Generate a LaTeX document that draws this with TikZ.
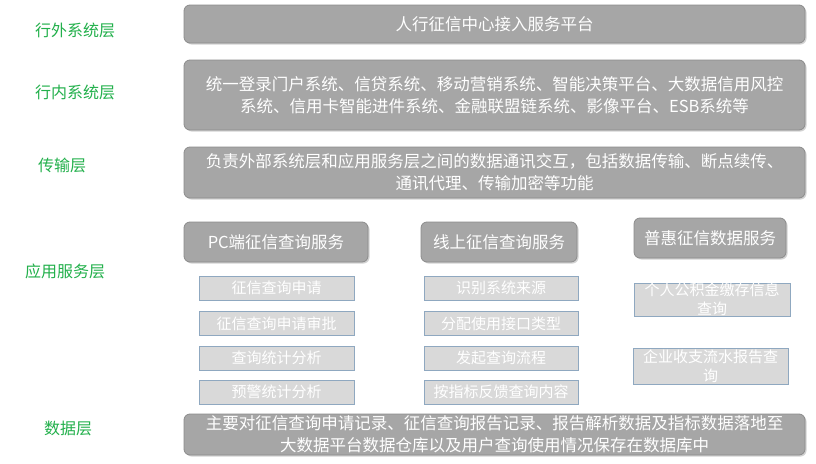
\documentclass[tikz,border=0pt]{standalone}
\usepackage{fontspec}
\setmainfont{Noto Sans CJK SC}
\usetikzlibrary{shadows}
\definecolor{boxgray}{HTML}{A6A6A6}
\definecolor{boxedge}{HTML}{8C8C8C}
\definecolor{lightbox}{HTML}{D9D9D9}
\definecolor{lightedge}{HTML}{8FA8C0}
\definecolor{labgreen}{HTML}{22B04B}
\tikzset{
  layerlabel/.style={text=labgreen, font=\fontsize{16}{20}\selectfont, inner sep=0pt},
  graybox/.style={draw=boxedge, line width=0.8pt, fill=boxgray, rounded corners=6pt, text=white,
    inner sep=0pt, align=center, font=\fontsize{16.5}{22}\selectfont,
    drop shadow={shadow xshift=1.5pt, shadow yshift=-1.5pt, opacity=0.35, fill=gray}},
  smallbox/.style={draw=lightedge, line width=0.9pt, fill=lightbox, text=white,
    inner sep=0pt, align=center, font=\fontsize{15}{20}\selectfont},
}
\begin{document}
\begin{tikzpicture}[x=1pt,y=-1pt]
\useasboundingbox[fill=white] (0,0) rectangle (816,463);
% labels
\node[layerlabel] (l1) at (75,30) {行外系统层};
\node[layerlabel] (l2) at (75,92) {行内系统层};
\node[layerlabel] (l3) at (62,165) {传输层};
\node[layerlabel] (l4) at (65,271) {应用服务层};
\node[layerlabel] (l5) at (68,428) {数据层};
% layer boxes
\node[graybox, minimum width=621pt, minimum height=38pt] (b1) at (494.5,24) {人行征信中心接入服务平台};
\node[graybox, minimum width=621pt, minimum height=70pt] (b2) at (494.5,95) {统一登录门户系统、信贷系统、移动营销系统、智能决策平台、大数据信用风控\\系统、信用卡智能进件系统、金融联盟链系统、影像平台、ESB系统等};
\node[graybox, minimum width=621pt, minimum height=51pt] (b3) at (494.5,172.5) {负责外部系统层和应用服务层之间的数据通讯交互，包括数据传输、断点续传、\\通讯代理、传输加密等功能};
\node[graybox, minimum width=621pt, minimum height=41pt] (b5) at (494.5,434.5) {主要对征信查询申请记录、征信查询报告记录、报告解析数据及指标数据落地至\\大数据平台数据仓库以及用户查询使用情况保存在数据库中};
% application headers
\node[graybox, minimum width=184pt, minimum height=40pt] (h1) at (276,242) {PC端征信查询服务};
\node[graybox, minimum width=156pt, minimum height=40pt] (h2) at (499,242) {线上征信查询服务};
\node[graybox, minimum width=152pt, minimum height=40pt] (h3) at (710,238) {普惠征信数据服务};
% left column
\node[smallbox, minimum width=155pt, minimum height=24pt] (a1) at (276.5,288) {征信查询申请};
\node[smallbox, minimum width=155pt, minimum height=24pt] (a2) at (276.5,323.5) {征信查询申请审批};
\node[smallbox, minimum width=155pt, minimum height=24pt] (a3) at (276.5,358) {查询统计分析};
\node[smallbox, minimum width=155pt, minimum height=24pt] (a4) at (276.5,392) {预警统计分析};
% middle column
\node[smallbox, minimum width=154pt, minimum height=24pt] (m1) at (501,288) {识别系统来源};
\node[smallbox, minimum width=154pt, minimum height=24pt] (m2) at (501,323.5) {分配使用接口类型};
\node[smallbox, minimum width=154pt, minimum height=24pt] (m3) at (501,358) {发起查询流程};
\node[smallbox, minimum width=154pt, minimum height=24pt] (m4) at (501,392) {按指标反馈查询内容};
% right column
\node[smallbox, minimum width=156pt, minimum height=33pt, font=\fontsize{15}{19}\selectfont] (r1) at (712,299.5) {个人公积金缴存信息\\查询};
\node[smallbox, minimum width=155pt, minimum height=36pt, font=\fontsize{15}{19}\selectfont] (r2) at (710.5,366) {企业收支流水报告查\\询};
\end{tikzpicture}
\end{document}
